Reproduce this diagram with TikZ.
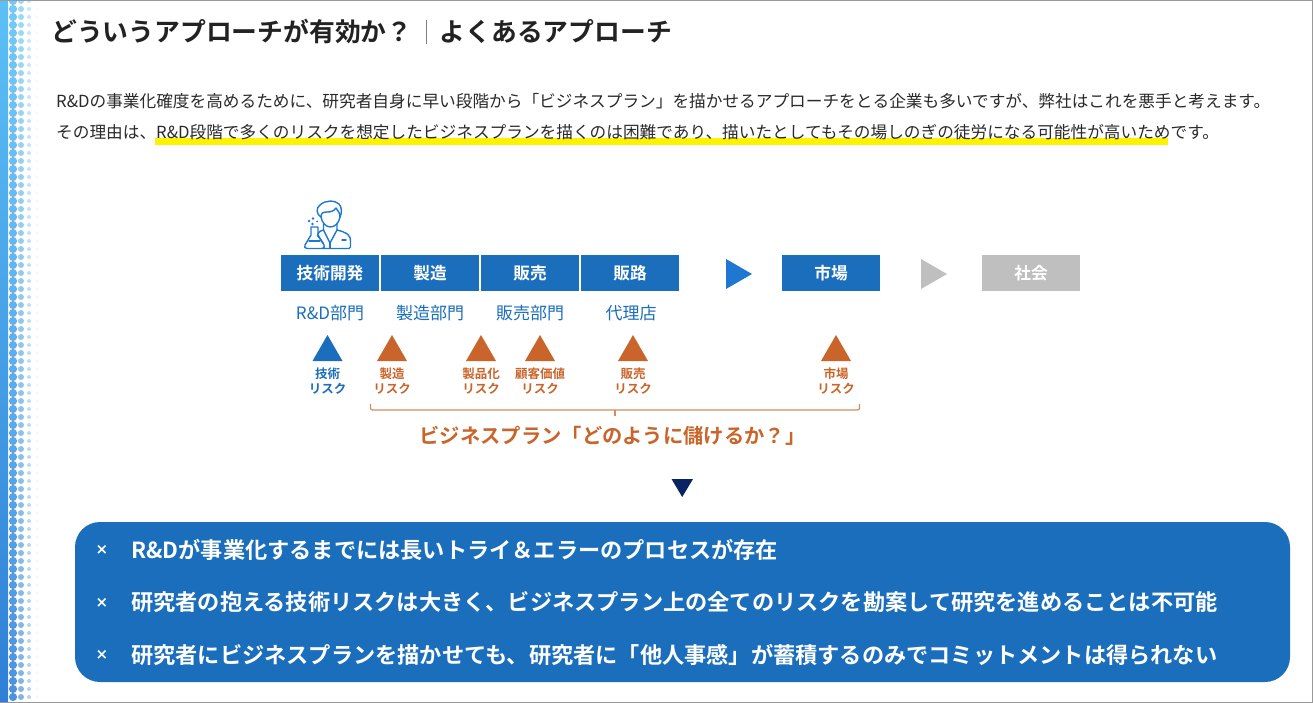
\documentclass[tikz,border=0pt]{standalone}
\usepackage{fontspec}
\setmainfont{Noto Sans CJK JP}[BoldFont={Noto Sans CJK JP Bold}]
\newfontfamily\crossfont{DejaVu Sans Bold}
\newcommand{\fs}[1]{\fontsize{#1pt}{#1pt}\selectfont}
\definecolor{blu}{HTML}{1B6EBB}
\definecolor{arw}{HTML}{1E78D2}
\definecolor{org}{HTML}{C9652B}
\definecolor{gry}{HTML}{BFBFBF}
\definecolor{nav}{HTML}{0A2463}
\definecolor{ink}{HTML}{222222}
\definecolor{txt}{HTML}{2A2A2A}
\definecolor{ylw}{HTML}{FFF200}
\definecolor{stripT}{HTML}{5CC0F5}
\definecolor{stripB}{HTML}{2F7FD6}
\tikzset{
  stepbox/.style={fill=#1,minimum width=98pt,minimum height=36pt,inner sep=0pt,text=white,font=\fs{16.7}\bfseries},
  dept/.style={text=blu,font=\fs{17},inner sep=0pt},
  risk/.style={text=#1,font=\fs{12.5}\bfseries,align=center,inner sep=0pt},
  body/.style={anchor=west,inner sep=0pt,text=txt,font=\fs{16.67}},
  point/.style={anchor=west,inner sep=0pt,text=white,font=\fs{22.2}\bfseries},
  crossmark/.style={anchor=center,inner sep=0pt,text=white,font=\fs{15}\crossfont},
}
\begin{document}
\begin{tikzpicture}[x=1pt,y=-1pt]
\useasboundingbox (0,0) rectangle (1313,703);
\fill[white] (0,0) rectangle (1313,703);
% left strip
\shade[top color=stripT,bottom color=stripB] (0,0) rectangle (8,703);
\foreach \k in {0,...,87}{
  \pgfmathsetmacro{\yy}{1+8*\k}
  \pgfmathsetmacro{\mx}{100-\k*100/87}
  \colorlet{cc}{stripT!\mx!stripB}
  \fill[cc!85!white] (13,\yy) circle (4.1);
  \fill[cc!60!white] (21,\yy) circle (3.0);
  \fill[cc!35!white] (29,\yy) circle (2.0);
  \fill[cc!8!white] (37,\yy) circle (1.2);
}
% frame
\draw[gray!80,line width=1.4pt] (0,0.7) -- (1313,0.7);
\draw[gray!80,line width=1.4pt] (0,702.3) -- (1313,702.3);
\draw[gray!80,line width=1pt] (1312.5,0) -- (1312.5,703);
% title
\node[anchor=west,inner sep=0pt,text=ink,font=\fs{25.8}\bfseries] (t1) at (51,31.5) {どういうアプローチが有効か？};
\node[anchor=west,inner sep=0pt,text=ink,font=\fs{25.8}\bfseries] (t2) at (439.5,31.5) {よくあるアプローチ};
\draw[gray,line width=0.8pt] (426,20) -- (426,44);
% body
\fill[ylw] (155,138) rectangle (1168,145);
\node[body] (b1) at (56,101.5) {R\&Dの事業化確度を高めるために、研究者自身に早い段階から「ビジネスプラン」を描かせるアプローチをとる企業も多いですが、弊社はこれを悪手と考えます。};
\node[body] (b2) at (56,132) {その理由は、R\&D段階で多くのリスクを想定したビジネスプランを描くのは困難であり、描いたとしてもその場しのぎの徒労になる可能性が高いためです。};
% icon
\begin{scope}[draw=arw,line width=1.4pt,line join=round,line cap=round]
  % hair outline
  \draw (321,217) .. controls (316,214) and (316,208) .. (320,205) .. controls (325,200) and (335,200) .. (339,204) .. controls (342,207) and (342,213) .. (340,217);
  % fringe
  \draw (321,217) .. controls (321,213) and (323,212) .. (327,212) .. controls (331,212) and (334,211) .. (336,208) .. controls (338,211) and (340,213) .. (340,217);
  % face
  \draw (321,217) .. controls (322,223) and (326,227) .. (330.5,227) .. controls (335,227) and (339,223) .. (340,217);
  % neck and collar
  \draw (323.5,224) -- (323.5,230) -- (330,243) -- (337,230) -- (337,224);
  \draw (330,243) -- (330,248.5);
  % shoulders and coat
  \draw (323.5,230) .. controls (320,231) and (318,232) .. (317.5,236);
  \draw (337,230) .. controls (345,232) and (350.5,234) .. (350.5,241) -- (350.5,247) .. controls (350.5,248) and (350,248.5) .. (349,248.5) -- (323,248.5);
  \draw (318,236) -- (323,243);
  \draw (342,240) -- (346,240);
  % flask
  \draw (311,227) -- (311,235) -- (305,245) .. controls (304,247) and (305,248.5) .. (307,248.5) -- (322,248.5) .. controls (324,248.5) and (325,247) .. (324,245) -- (318,235) -- (318,227) -- cycle;
  \draw (309,241) -- (320,241);
  \fill[arw] (312.5,224) circle (1.4) (309,221) circle (1.3) (313,218.5) circle (1.3) (317,221.5) circle (1);
\end{scope}
% process boxes
\node[stepbox=blu] (s1) at (330,273) {技術開発};
\node[stepbox=blu] (s2) at (430,273) {製造};
\node[stepbox=blu] (s3) at (530,273) {販売};
\node[stepbox=blu] (s4) at (630,273) {販路};
\node[stepbox=blu] (s5) at (831,273) {市場};
\node[stepbox=gry] (s6) at (1031,273) {社会};
\fill[arw] (726,259) -- (752,274) -- (726,289) -- cycle;
\fill[gry] (921,259) -- (947,274) -- (921,289) -- cycle;
% departments
\node[dept] (d1) at (330,313) {R\&D部門};
\node[dept] (d2) at (430,313) {製造部門};
\node[dept] (d3) at (530,313) {販売部門};
\node[dept] (d4) at (631,313) {代理店};
% risk triangles
\foreach \x/\c in {327.5/blu,392/org,481/org,540/org,633/org,836/org}{
  \fill[\c] (\x-15,361) -- (\x,335) -- (\x+15,361) -- cycle;
}
\node[risk=blu] (r1) at (327.5,381) {技術\\[3pt]リスク};
\node[risk=org] (r2) at (392,381) {製造\\[3pt]リスク};
\node[risk=org] (r3) at (481,381) {製品化\\[3pt]リスク};
\node[risk=org] (r4) at (540,381) {顧客価値\\[3pt]リスク};
\node[risk=org] (r5) at (633,381) {販売\\[3pt]リスク};
\node[risk=org] (r6) at (836,381) {市場\\[3pt]リスク};
% bracket
\coordinate (bl) at (370.5,404);
\coordinate (br) at (859.5,404);
\coordinate (bm) at (615,410);
\draw[org!75!white,line width=1.2pt,rounded corners=2pt] (bl) |- (615,410) -| (br);
\draw[org!75!white,line width=1.2pt] (bm) -- (615,416);
\node[inner sep=0pt,text=org,font=\fs{20.3}\bfseries] (bp) at (612.5,435.5) {ビジネスプラン「どのように儲けるか？」};
\fill[nav] (671.5,479) -- (693,479) -- (682.2,497) -- cycle;
% conclusions
\node[fill=blu,rounded corners=25pt,minimum width=1215pt,minimum height=160pt,inner sep=0pt] (panel) at (682.5,602) {};
\node[crossmark] (x1) at (102,550) {×};
\node[crossmark] (x2) at (102,602.5) {×};
\node[crossmark] (x3) at (102,655) {×};
\node[point] (p1) at (131,549.5) {R\&Dが事業化するまでには長いトライ＆エラーのプロセスが存在};
\node[point] (p2) at (131,602) {研究者の抱える技術リスクは大きく、ビジネスプラン上の全てのリスクを勘案して研究を進めることは不可能};
\node[point] (p3) at (131,654.5) {研究者にビジネスプランを描かせても、研究者に「他人事感」が蓄積するのみでコミットメントは得られない};
\end{tikzpicture}
\end{document}
